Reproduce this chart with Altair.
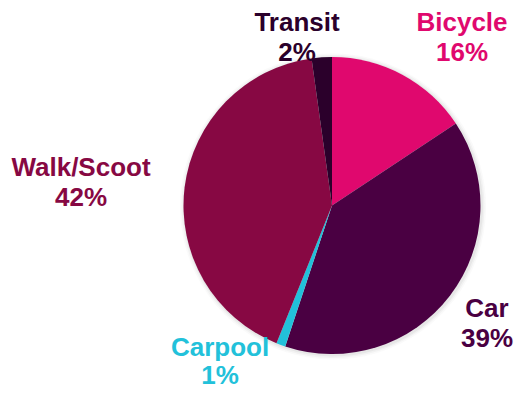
import altair as alt
import pandas as pd

modes = ["Bicycle", "Car", "Carpool", "Walk/Scoot", "Transit"]
shares = [15.7, 39.4, 1.0, 41.7, 2.2]
pct_labels = ["16%", "39%", "1%", "42%", "2%"]
colors = ["#E0086E", "#4A0042", "#22C1DA", "#870843", "#2B002B"]

df = pd.DataFrame({
    "mode": modes,
    "share": shares,
    "pct": pct_labels,
    "idx": list(range(len(modes))),
})
df["label"] = df["mode"] + "\n" + df["pct"]

CX, CY, R = 324, 197.5, 148.5
LH = 30

color_scale = alt.Scale(domain=modes, range=colors)
base = alt.Chart(df)

shadows = []
for k, op in [(4.5, 0.035), (3, 0.05), (1.5, 0.07)]:
    shadows.append(
        base.mark_arc(radius=R + k, color="#666666", opacity=op).encode(
            theta=alt.Theta("share:Q", stack=True),
            order=alt.Order("idx:O"),
            x=alt.value(CX + 1), y=alt.value(CY + 1),
        )
    )

pie = base.mark_arc(radius=R).encode(
    theta=alt.Theta("share:Q", stack=True),
    color=alt.Color("mode:N", scale=color_scale, legend=None),
    order=alt.Order("idx:O"),
    x=alt.value(CX), y=alt.value(CY),
)

# label block centre offsets from pie centre (style only)
label_offsets = {
    "Bicycle": (130, -168),
    "Car": (155, 118),
    "Carpool": (-112, 156),
    "Walk/Scoot": (-251, -23),
    "Transit": (-35, -168),
}

texts = []
for m, (ox, oy) in label_offsets.items():
    lh = 28 if m == "Carpool" else LH
    texts.append(
        base.transform_filter(alt.datum.mode == m).mark_text(
            font="Liberation Sans", fontWeight="bold", fontSize=26,
            lineBreak="\n", lineHeight=lh, align="center", baseline="middle",
            dx=ox, dy=oy - lh / 2,
        ).encode(
            text="label:N",
            color=alt.Color("mode:N", scale=color_scale, legend=None),
            x=alt.value(CX), y=alt.value(CY),
        )
    )

chart = alt.layer(*shadows, pie, *texts).properties(
    width=506, height=385,
    autosize=alt.AutoSizeParams(type="none"),
    padding=0,
).configure_view(stroke=None)

chart.save("out.html", embed_options={"renderer": "svg", "actions": False})
